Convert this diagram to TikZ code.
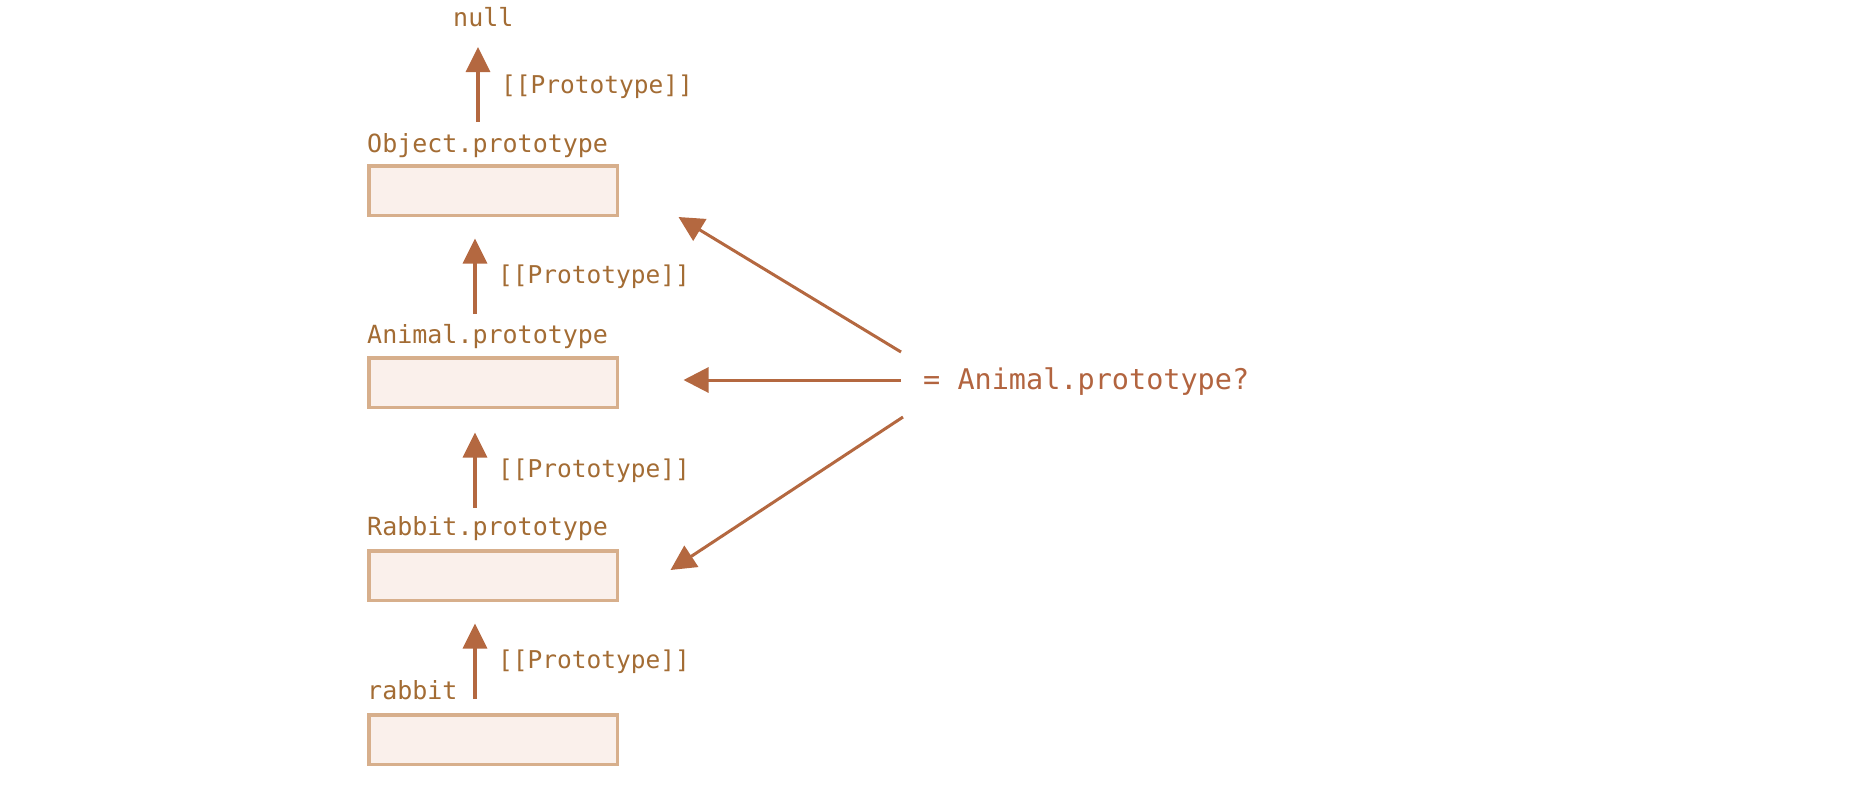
\documentclass[tikz,border=0pt]{standalone}
\usepackage{fontspec}
\setmonofont{DejaVu Sans Mono}
\usetikzlibrary{arrows.meta}
\definecolor{arrowc}{HTML}{B46840}
\definecolor{labelc}{HTML}{A36C34}
\definecolor{askc}{HTML}{B2643F}
\definecolor{boxline}{HTML}{D7AF8C}
\definecolor{boxfill}{HTML}{FAF0EB}
\begin{document}
\begin{tikzpicture}[x=1pt,y=-1pt,
  objbox/.style={draw=boxline,fill=boxfill,line width=3.5pt,minimum width=248.5pt,minimum height=49.5pt,inner sep=0pt,outer sep=0pt},
  objname/.style={anchor=base west,inner sep=0pt,text=labelc,font=\ttfamily\fontsize{25}{30}\selectfont},
  protolbl/.style={anchor=base west,inner sep=0pt,text=labelc,font=\ttfamily\fontsize{24.5}{30}\selectfont},
  asklbl/.style={anchor=base west,inner sep=0pt,text=askc,font=\ttfamily\fontsize{28.5}{34}\selectfont},
  uparrow/.style={draw=arrowc,line width=3.5pt,-{Triangle[length=25pt,width=24pt]}},
  testarrow/.style={draw=arrowc,line width=3pt,-{Triangle[length=25pt,width=25pt]}}]
\useasboundingbox (0,0) rectangle (1872,788);

% chain of objects
\node[objname] (null) at (453,26) {null};
\node[objname] (objlbl) at (367,152) {Object.prototype};
\node[objbox] (boxObj) at (493,190.5) {};
\node[objname] (anilbl) at (367,343) {Animal.prototype};
\node[objbox] (boxAni) at (493,382.5) {};
\node[objname] (rablbl) at (367,535) {Rabbit.prototype};
\node[objbox] (boxRab) at (493,575.5) {};
\node[objname] (rabbit) at (367,699) {rabbit};
\node[objbox] (boxInst) at (493,739.5) {};

% [[Prototype]] links
\node[protolbl] (p1) at (501,93) {[[Prototype]]};
\node[protolbl] (p2) at (498,283) {[[Prototype]]};
\node[protolbl] (p3) at (498,477) {[[Prototype]]};
\node[protolbl] (p4) at (498,668) {[[Prototype]]};

\draw[uparrow] ([shift={(111,-30)}]objlbl.base west) -- ([shift={(25,21)}]null.base west);
\draw[uparrow] ([shift={(108,-29)}]anilbl.base west) -- ([shift={(106.25,23.25)}]boxObj.south west);
\draw[uparrow] ([shift={(108,-27)}]rablbl.base west) -- ([shift={(106.25,25.25)}]boxAni.south west);
\draw[uparrow] ([shift={(108,0)}]rabbit.base west) -- ([shift={(106.25,23.25)}]boxRab.south west);

% the instanceof question
\node[asklbl] (ask) at (923,389) {= Animal.prototype?};
\draw[testarrow] ([shift={(-22,-37)}]ask.base west) -- ([shift={(61.25,1.75)}]boxObj.south east);
\draw[testarrow] ([shift={(-22,-9)}]ask.base west) -- ([shift={(66.25,-2.5)}]boxAni.east);
\draw[testarrow] ([shift={(-20,28)}]ask.base west) -- ([shift={(53.25,-5.5)}]boxRab.east);
\end{tikzpicture}
\end{document}
